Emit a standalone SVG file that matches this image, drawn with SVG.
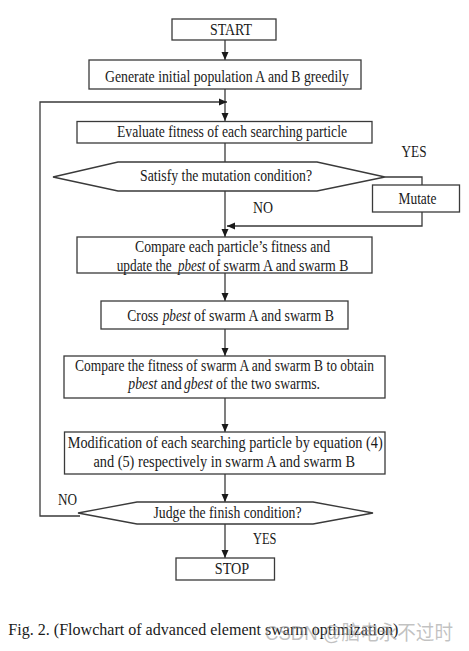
<svg xmlns="http://www.w3.org/2000/svg" width="469" height="651" viewBox="0 0 469 651">
<style>
.box{fill:#fff;stroke:#3a3a3a;stroke-width:1.3}
.t{font-family:"Liberation Serif","Times New Roman",serif;font-size:16px;fill:#1a1a1a;text-anchor:middle}
.l{font-family:"Liberation Serif","Times New Roman",serif;font-size:16px;fill:#1a1a1a}
.i{font-style:italic}
.c{fill:none;stroke:#3a3a3a;stroke-width:1.3}
</style>
<defs>
<marker id="ah" markerUnits="userSpaceOnUse" markerWidth="8" markerHeight="8" viewBox="0 0 8 8" refX="8" refY="4" orient="auto">
<path d="M0,0.5 L8,4 L0,7.5 Z" fill="#1a1a1a"/>
</marker>
</defs>
<rect width="469" height="651" fill="#fff"/>
<g id="connectors">
<path class="c" d="M225,40 V60" marker-end="url(#ah)"/>
<path class="c" d="M225,89 V121" marker-end="url(#ah)"/>
<path class="c" d="M80,516 H40 V102 H227" marker-end="url(#ah)"/>
<path class="c" d="M225,143 V162"/>
<path class="c" d="M225,191 V237" marker-end="url(#ah)"/>
<path class="c" d="M385,177 H422 V185"/>
<path class="c" d="M422,212 V226 H227" marker-end="url(#ah)"/>
<path class="c" d="M225,273 V301" marker-end="url(#ah)"/>
<path class="c" d="M225,329 V356" marker-end="url(#ah)"/>
<path class="c" d="M225,398 V432" marker-end="url(#ah)"/>
<path class="c" d="M225,474 V502" marker-end="url(#ah)"/>
<path class="c" d="M225,524 V558" marker-end="url(#ah)"/>
</g>
<g id="labels">
<text class="l" x="401.5" y="157" textLength="25" lengthAdjust="spacingAndGlyphs">YES</text>
<text class="l" x="253" y="213" textLength="20" lengthAdjust="spacingAndGlyphs">NO</text>
<text class="l" x="58" y="505" textLength="19" lengthAdjust="spacingAndGlyphs">NO</text>
<text class="l" x="253" y="544" textLength="23.5" lengthAdjust="spacingAndGlyphs">YES</text>
</g>
<g id="start">
<rect class="box" x="172" y="19" width="104" height="21"/>
<text class="t" x="231" y="35" textLength="42" lengthAdjust="spacingAndGlyphs">START</text>
</g>
<g id="generate">
<rect class="box" x="89" y="60" width="272" height="29"/>
<text class="t" x="227" y="82" textLength="244" lengthAdjust="spacingAndGlyphs">Generate initial population A and B greedily</text>
</g>
<g id="evaluate">
<rect class="box" x="77" y="121.5" width="295" height="21.5"/>
<text class="t" x="232" y="137" textLength="230" lengthAdjust="spacingAndGlyphs">Evaluate fitness of each searching particle</text>
</g>
<g id="mutation-check">
<polygon class="box" points="53,177 118,162 317,162 385,177 317,191 118,191"/>
<text class="t" x="226" y="181" textLength="172" lengthAdjust="spacingAndGlyphs">Satisfy the mutation condition?</text>
</g>
<g id="mutate">
<rect class="box" x="372.5" y="185" width="87" height="27"/>
<text class="t" x="417.5" y="204" textLength="38" lengthAdjust="spacingAndGlyphs">Mutate</text>
</g>
<g id="compare-pbest">
<rect class="box" x="77" y="237" width="295" height="36"/>
<text class="t" x="232.5" y="251.5" textLength="195" lengthAdjust="spacingAndGlyphs">Compare each particle’s fitness and</text>
<text class="l" x="116.7" y="271" font-size="14" textLength="55" lengthAdjust="spacingAndGlyphs">update the</text>
<text class="l i" x="178" y="271" font-size="15" textLength="27.5" lengthAdjust="spacingAndGlyphs">pbest</text>
<text class="l" x="208.5" y="271" textLength="140" lengthAdjust="spacingAndGlyphs">of swarm A and swarm B</text>
</g>
<g id="cross">
<rect class="box" x="101" y="301" width="247" height="28"/>
<text class="l" x="127.3" y="320.5" textLength="31" lengthAdjust="spacingAndGlyphs">Cross</text>
<text class="l i" x="162.7" y="320.5" textLength="28" lengthAdjust="spacingAndGlyphs">pbest</text>
<text class="l" x="194" y="320.5" textLength="140" lengthAdjust="spacingAndGlyphs">of swarm A and swarm B</text>
</g>
<g id="compare-gbest">
<rect class="box" x="64" y="356" width="321" height="42"/>
<text class="t" x="224.5" y="371" textLength="299" lengthAdjust="spacingAndGlyphs">Compare the fitness of swarm A and swarm B to obtain</text>
<text class="l i" x="128.3" y="389" textLength="29" lengthAdjust="spacingAndGlyphs">pbest</text>
<text class="l" x="160.7" y="389" textLength="21" lengthAdjust="spacingAndGlyphs">and</text>
<text class="l i" x="184" y="389" textLength="28.7" lengthAdjust="spacingAndGlyphs">gbest</text>
<text class="l" x="216" y="389" textLength="104" lengthAdjust="spacingAndGlyphs">of the two swarms.</text>
</g>
<g id="modify">
<rect class="box" x="64.5" y="432" width="320.5" height="42"/>
<text class="t" x="225.2" y="448" textLength="315" lengthAdjust="spacingAndGlyphs">Modification of each searching particle by equation (4)</text>
<text class="t" x="224.2" y="467" textLength="261.5" lengthAdjust="spacingAndGlyphs">and (5) respectively in swarm A and swarm B</text>
</g>
<g id="finish-check">
<polygon class="box" points="78,513 137,502 313,502 373,513 313,524 137,524"/>
<text class="t" x="227.5" y="518" textLength="148" lengthAdjust="spacingAndGlyphs">Judge the finish condition?</text>
</g>
<g id="stop">
<rect class="box" x="176" y="558" width="98.5" height="22"/>
<text class="t" x="232" y="574" textLength="34.5" lengthAdjust="spacingAndGlyphs">STOP</text>
</g>
<text class="l" x="8.3" y="635" font-size="15" textLength="390" lengthAdjust="spacingAndGlyphs">Fig. 2. (Flowchart of advanced element swarm optimization)</text>
<text x="265" y="640" font-family="'Liberation Sans','Noto Sans CJK SC',sans-serif" font-size="20" fill="#999" fill-opacity="0.6" textLength="188" lengthAdjust="spacingAndGlyphs">CSDN @脑电永不过时</text>
</svg>
